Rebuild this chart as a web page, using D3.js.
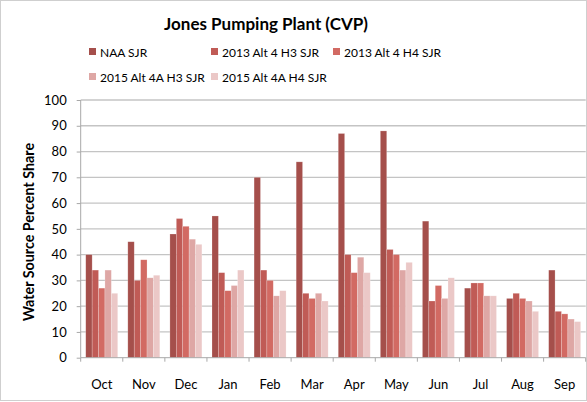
<!DOCTYPE html>
<meta charset="utf-8">
<style>
body { margin: 0; background: #fff; }
svg { font-family: Lato, "Open Sans", sans-serif; }
.title { font-weight: bold; font-size: 17px; }
.x-label text, .y-axis text { font-size: 13px; fill: #000; }
.legend text { font-size: 12px; fill: #000; }
.ylabel { font-weight: bold; font-size: 14.3px; }
.grid line { stroke: #c4c4c4; stroke-width: 1.3px; }
.y-axis path, .y-axis line, .xaxis line { stroke: #a8a8a8; stroke-width: 1px; }
.y-axis path { display: none; }
</style>
<body>
<svg width="587" height="402"></svg>
<script src="https://cdn.jsdelivr.net/npm/d3@7"></script>
<script>

let months = ['Oct', 'Nov', 'Dec', 'Jan', 'Feb', 'Mar', 'Apr', 'May', 'Jun', 'Jul', 'Aug', 'Sep'];
let seriesNames = ['NAA SJR', '2013 Alt 4 H3 SJR', '2013 Alt 4 H4 SJR', '2015 Alt 4A H3 SJR', '2015 Alt 4A H4 SJR'];
let naa     = [40, 45, 48, 55, 70, 76, 87, 88, 53, 27, 23, 34];
let alt4H3  = [34, 30, 54, 33, 34, 25, 40, 42, 22, 29, 25, 18];
let alt4H4  = [27, 38, 51, 26, 30, 23, 33, 40, 28, 29, 23, 17];
let alt4aH3 = [34, 31, 46, 28, 24, 25, 39, 34, 23, 24, 22, 15];
let alt4aH4 = [25, 32, 44, 34, 26, 22, 33, 37, 31, 24, 18, 14];
let yTicks = [0, 10, 20, 30, 40, 50, 60, 70, 80, 90, 100];
let colors = ['#a54f4b', '#c05b56', '#d26a63', '#dea7a5', '#ebc8c7'];

let values = [naa, alt4H3, alt4H4, alt4aH3, alt4aH4];

let svg = d3.select('svg');

// outer border like the excel chart frame
svg.append('rect')
  .attr('x', 0.5).attr('y', 0.5)
  .attr('width', 586).attr('height', 400)
  .attr('fill', 'none')
  .attr('stroke', '#cfcfcf');

let plotLeft = 80.7, plotRight = 585.7, plotTop = 100, plotBottom = 357.7;

let x0 = d3.scaleBand()
  .domain(months)
  .range([plotLeft, plotRight])
  .paddingInner(0.24)
  .paddingOuter(0.12);

let x1 = d3.scaleBand()
  .domain(d3.range(seriesNames.length))
  .range([0, x0.bandwidth()]);

let y = d3.scaleLinear()
  .domain([0, 100])
  .range([plotBottom, plotTop]);

// gridlines
svg.append('g').attr('class', 'grid')
  .selectAll('line')
  .data(yTicks.slice(1))
  .join('line')
  .attr('x1', plotLeft).attr('x2', plotRight)
  .attr('y1', d => y(d)).attr('y2', d => y(d));

// y axis
let yAxis = svg.append('g')
  .attr('class', 'y-axis')
  .attr('transform', `translate(${plotLeft},0)`)
  .call(d3.axisLeft(y).tickValues(yTicks).tickSize(4).tickPadding(10));
yAxis.selectAll('text').style('font-size', '13px').style('font-family', 'Lato, sans-serif');
svg.append('line')
  .attr('x1', plotLeft).attr('x2', plotLeft)
  .attr('y1', plotTop).attr('y2', plotBottom)
  .attr('stroke', '#a8a8a8');

// bars
let groups = svg.append('g')
  .selectAll('g')
  .data(months)
  .join('g')
  .attr('transform', d => `translate(${x0(d)},0)`);

groups.selectAll('rect')
  .data((m, i) => values.map((s, k) => ({ k: k, v: s[i] })))
  .join('rect')
  .attr('x', d => x1(d.k))
  .attr('width', x1.bandwidth())
  .attr('y', d => y(d.v))
  .attr('height', d => y(0) - y(d.v))
  .attr('fill', d => colors[d.k])
  .attr('stroke', 'rgba(255,255,255,0.35)')
  .attr('stroke-width', 0.6);

// x axis with ticks between categories
let xa = svg.append('g').attr('class', 'xaxis');
xa.append('line')
  .attr('x1', plotLeft).attr('x2', plotRight)
  .attr('y1', plotBottom).attr('y2', plotBottom);
xa.selectAll('line.tick')
  .data(d3.range(months.length + 1))
  .join('line')
  .attr('class', 'tick')
  .attr('x1', i => plotLeft + i * x0.step())
  .attr('x2', i => plotLeft + i * x0.step())
  .attr('y1', plotBottom).attr('y2', plotBottom + 4);

svg.append('g').attr('class', 'x-label')
  .selectAll('text')
  .data(months)
  .join('text')
  .attr('x', d => x0(d) + x0.bandwidth() / 2)
  .attr('y', 389)
  .attr('text-anchor', 'middle')
  .text(d => d);

// y label
svg.append('text')
  .attr('class', 'ylabel')
  .attr('transform', 'translate(34,232) rotate(-90)')
  .attr('text-anchor', 'middle')
  .text('Water Source Percent Share');

// title
svg.append('text')
  .attr('class', 'title')
  .attr('x', 266)
  .attr('y', 30)
  .attr('text-anchor', 'middle')
  .text('Jones Pumping Plant (CVP)');

// legend
let legendPos = [[89, 52], [211, 52], [333, 52], [89, 77], [211, 77]];
let lg = svg.append('g').attr('class', 'legend')
  .selectAll('g')
  .data(seriesNames)
  .join('g')
  .attr('transform', (d, i) => `translate(${legendPos[i][0]},${legendPos[i][1]})`);
lg.append('rect')
  .attr('x', 0).attr('y', -4)
  .attr('width', 7).attr('height', 7)
  .attr('fill', (d, i) => colors[i]);
lg.append('text')
  .attr('x', 11).attr('y', 4.5)
  .text(d => d);

</script>
</body>
